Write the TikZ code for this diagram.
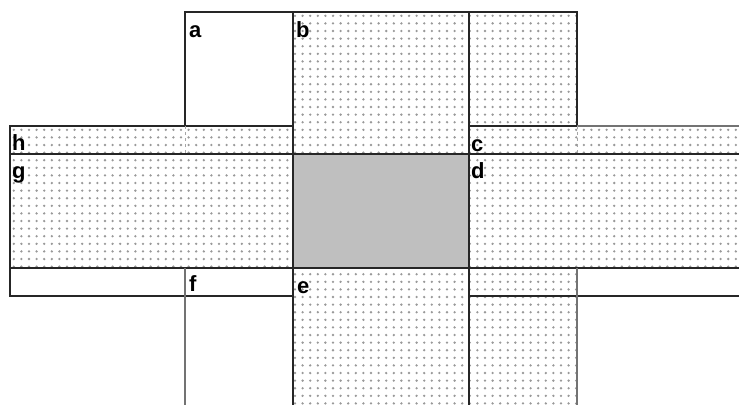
\documentclass[tikz,border=0pt]{standalone}
\usepackage{fontspec}
\setmainfont{Liberation Sans}
\tikzset{
  speck/.style={fill=black!40},
  core/.style={fill=black!25},
  edge/.style={line width=1.2pt,draw=black!85},
  softedge/.style={line width=1.2pt,draw=black!55},
  seam/.style={dashed,line width=0.6pt,draw=black!35},
  tag/.style={font=\fontsize{22}{22}\selectfont\bfseries,anchor=base west,inner sep=0pt}
}
\begin{document}
\begin{tikzpicture}[x=1pt,y=-1pt]
  \useasboundingbox (0,0) rectangle (739,405);
  % stippled bands
  \begin{scope}
    \clip (10,126) rectangle (739,268) (293,12) rectangle (577,405);
    \foreach \y in {15.8,23.4,...,405}{
      \foreach \x in {13.8,21.4,...,739}{\fill[speck] (\x,\y) circle (1.3);}
    }
  \end{scope}
  \fill[core] (293,154) rectangle (469,268);
  % outlines
  \draw[edge] (185,126) -- (185,12) -- (577,12) -- (577,126);
  \draw[edge] (293,12) -- (293,405);
  \draw[edge] (469,12) -- (469,405);
  \draw[edge] (293,126) -- (10,126) -- (10,296) -- (293,296);
  \draw[edge] (469,126) -- (577,126);
  \draw[softedge] (577,126) -- (739,126);
  \draw[edge] (10,154) -- (739,154);
  \draw[edge] (10,268) -- (739,268);
  \draw[edge] (469,296) -- (739,296);
  \draw[softedge] (185,268) -- (185,405);
  \draw[softedge] (577,268) -- (577,405);
  \draw[seam] (185,126) -- (185,154);
  \draw[seam] (577,126) -- (577,154);
  % cell labels
  \node[tag] (la) at (189,37) {a};
  \node[tag] (lb) at (296,37) {b};
  \node[tag] (lc) at (471,151) {c};
  \node[tag] (ld) at (471,178) {d};
  \node[tag] (le) at (297,293) {e};
  \node[tag] (lf) at (189,291) {f};
  \node[tag] (lg) at (12,178) {g};
  \node[tag] (lh) at (12,150) {h};
\end{tikzpicture}
\end{document}
